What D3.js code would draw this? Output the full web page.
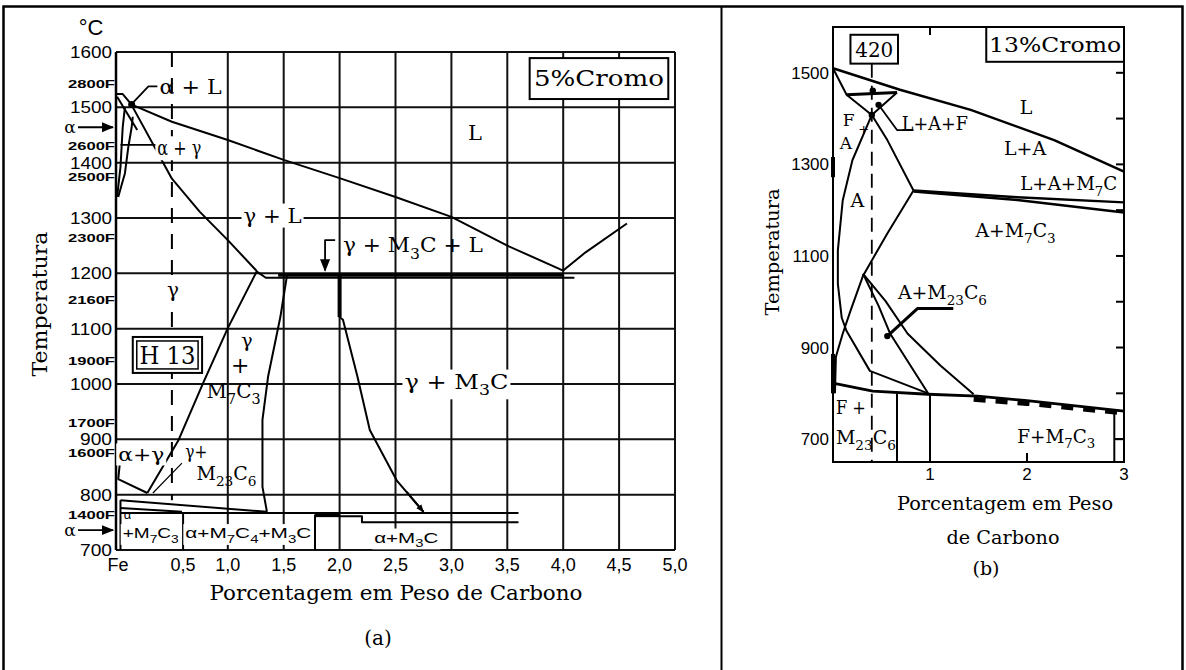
<!DOCTYPE html>
<html>
<head>
<meta charset="utf-8">
<script src="https://cdn.jsdelivr.net/npm/d3@7"></script>
<style>
  body { margin: 0; background: #fff; }
</style>
</head>
<body>
<svg width="1186" height="670"></svg>
<script>
// ---------- data: panel (a), 5% Cr ----------
const tempTicksA = [700, 800, 900, 1000, 1100, 1200, 1300, 1400, 1500, 1600];
const carbonGridA = [1.0, 1.5, 2.0, 2.5, 3.0, 3.5, 4.0, 4.5, 5.0];
const carbonTicksA = [0, 0.5, 1.0, 1.5, 2.0, 2.5, 3.0, 3.5, 4.0, 4.5, 5.0];
const carbonLabelsA = ["Fe", "0,5", "1,0", "1,5", "2,0", "2,5", "3,0", "3,5", "4,0", "4,5", "5,0"];
const fahrenheitTicks = [2800, 2600, 2500, 2300, 2100, 1900, 1700, 1600, 1400];
const fahrenheitLabels = ["2800F", "2600F", "2500F", "2300F", "2160F", "1900F", "1700F", "1600F", "1400F"];

// phase boundaries (wt% C, deg C)
const liquidusA = [[0.14,1505],[0.5,1474],[1.0,1441],[1.5,1405],[2.0,1372],[2.5,1338],[3.0,1302],[3.5,1250],[4.0,1205]];
const hyperLiquidusA = [[4.0,1205],[4.2,1238],[4.57,1290]];
const deltaTopA = [[0,1524],[0.06,1524],[0.14,1505]];
const deltaSolidusA = [[0.01,1519],[0.19,1459]];
const deltaOuterA = [[0.08,1501],[0.06,1464],[0.05,1428],[0.04,1392],[0.01,1338]];
const deltaInnerA = [[0.15,1483],[0.14,1464],[0.11,1428],[0.08,1381],[0.02,1338]];
const gammaSolidusA = [[0.14,1504],[0.5,1371],[0.75,1311],[1.0,1260],[1.26,1204]];
const eutecticA = [[1.45,1197],[4.0,1197]];
const eutecticLowerA = [[1.26,1203],[1.34,1192],[4.1,1192]];
const acmA = [[1.53,1197],[1.47,1121],[1.36,1013],[1.31,935],[1.31,814],[1.35,769]];
const gammaM7C3A = [[1.26,1204],[1.0,1101],[0.78,1002],[0.56,899],[0.28,803]];
const gammaM23C6A = [[0.59,857],[0.33,803]];
const alphaGammaA = [[0.04,868],[0.02,828],[0.28,803]];
const m3cBoundaryA = [[2.0,1197],[2.0,1121],[2.03,1116],[2.16,1013],[2.27,917],[2.51,826],[2.75,769]];
const eutectoidSlopeA = [[0.04,790],[1.35,769]];
const eutectoidStepA = [[0.04,776],[0.59,769]];
const eutectoidUpperA = [[0.04,767],[3.6,767]];
const eutectoidLowerA = [[1.99,761],[2.2,761],[2.2,750],[3.6,750]];
const boxEdgesA = [[[0.04,790],[0.04,700]], [[0.6,767],[0.6,700]], [[1.78,700],[1.78,763],[2.0,763]]];
const h13Carbon = 0.5;

// ---------- data: panel (b), 13% Cr ----------
const tempTicksB = [700, 900, 1100, 1300, 1500];
const rightTicksB = [700, 800, 900, 1000, 1100, 1200, 1300, 1400, 1500];
const carbonTicksB = [1, 2, 3];
const carbonLabelsB = ["1", "2", "3"];

const liquidusB = [[0,1510],[0.69,1463],[1.42,1419],[2.28,1353],[3.0,1284]];
const ferriteB = [[0,1510],[0.14,1452],[0.4,1408]];
const threePhaseB = [[0.14,1452],[0.66,1457]];
const threePhaseSideB = [[0.66,1457],[0.4,1408]];
const lamB = [[0.4,1408],[0.56,1353],[0.83,1243]];
const lamUpperB = [[0.83,1243],[1.9,1228],[3.0,1217]];
const lamLowerB = [[0.83,1241],[1.9,1222],[3.0,1195]];
const austM7C3B = [[0.83,1243],[0.56,1149],[0.31,1057],[0.18,980],[0.1,930],[0.03,880],[0.02,800]];
const austLeftB = [[0.4,1408],[0.2,1309],[0.1,1221],[0.05,1112],[0.05,1039],[0.09,965],[0.14,936],[0.38,849],[0.98,800]];
const m23c6B1 = [[0.31,1061],[0.47,991],[0.59,930],[0.98,800]];
const m23c6B2 = [[0.31,1061],[0.54,1002],[0.77,930],[1.11,860],[1.45,798]];
const eutectoidB = [[0,822],[0.41,805],[0.98,798],[1.49,794],[2.0,784],[3.0,761]];
const eutectoidDashB = [[1.45,787],[2.0,778],[3.0,757]];
const verticalsB = [[[0.66,800],[0.66,650]], [[1.0,798],[1.0,650]], [[2.9,764],[2.9,650]], [[2.9,700],[3.0,700]]];
const axisThickB = [[[0,1316],[0,1272]], [[0,886],[0,800]]];
const dotsB = [[0.41,1461],[0.4,1408],[0.47,1430],[0.56,925]];
const leaderLAF = [[0.47,1430],[0.66,1375],[0.83,1375]];
const leaderM23 = [[1.24,985],[0.87,985],[0.56,925]];
const alloy420Carbon = 0.4;

const svg = d3.select("svg");
const serif = "'DejaVu Serif', 'Liberation Serif', serif";
const sans = "'Liberation Sans', Arial, sans-serif";

// outer table
svg.append("rect").attr("x", 3.5).attr("y", 6.5).attr("width", 1179).attr("height", 670)
  .attr("fill", "none").attr("stroke", "#000").attr("stroke-width", 2.5);
svg.append("line").attr("x1", 721.5).attr("x2", 721.5).attr("y1", 6.5).attr("y2", 670)
  .attr("stroke", "#000").attr("stroke-width", 2);

const defs = svg.append("defs");
defs.append("marker").attr("id", "arr")
  .attr("viewBox", "0 0 10 10").attr("refX", 9).attr("refY", 5)
  .attr("markerWidth", 7).attr("markerHeight", 7).attr("orient", "auto")
  .append("path").attr("d", "M0,1 L10,5 L0,9 z").attr("fill", "#000");
defs.append("marker").attr("id", "arrSmall")
  .attr("viewBox", "0 0 10 10").attr("refX", 9).attr("refY", 5)
  .attr("markerWidth", 4).attr("markerHeight", 4).attr("orient", "auto")
  .append("path").attr("d", "M0,1 L10,5 L0,9 z").attr("fill", "#000");

function polyline(g, pts, sx, sy, w, dash) {
  const line = d3.line().x(d => sx(d[0])).y(d => sy(d[1]));
  return g.append("path").attr("d", line(pts)).attr("fill", "none")
    .attr("stroke", "#000").attr("stroke-width", w || 2)
    .attr("stroke-dasharray", dash || null).attr("stroke-linejoin", "round");
}

// text with _{sub} markup
function label(g, x, y, str, o) {
  o = o || {};
  const size = o.size || 20;
  const t = g.append("text").attr("x", x).attr("y", y)
    .attr("font-family", o.font || serif).attr("font-size", size)
    .attr("font-weight", o.weight || "normal")
    .attr("text-anchor", o.anchor || "start").attr("dy", "0.35em").attr("fill", "#000");
  let sub = false;
  str.split(/(_\{[^}]*\})/).forEach(p => {
    if (!p) return;
    if (p.startsWith("_{")) {
      t.append("tspan").attr("font-size", size * 0.72).attr("dy", size * 0.32).text(p.slice(2, -1));
      sub = true;
    } else {
      const ts = t.append("tspan").text(p);
      if (sub) { ts.attr("dy", -size * 0.32); sub = false; }
    }
  });
  if (o.width) t.attr("textLength", o.width).attr("lengthAdjust", "spacingAndGlyphs");
  if (o.bg) {
    const b = t.node().getBBox();
    g.insert("rect", () => t.node()).attr("x", b.x - 2).attr("y", b.y)
      .attr("width", b.width + 4).attr("height", b.height).attr("fill", "#fff");
  }
  return t;
}

// ================= panel (a) =================
const xA = d3.scaleLinear().domain([0, 5]).range([116, 675]);
const yA = d3.scaleLinear().domain([700, 1600]).range([550, 52]);
const gA = svg.append("g");

// grid
gA.selectAll(".hg").data(tempTicksA).enter().append("line")
  .attr("x1", xA(0)).attr("x2", xA(5)).attr("y1", d => yA(d)).attr("y2", d => yA(d))
  .attr("stroke", "#111").attr("stroke-width", 2);
gA.selectAll(".vg").data(carbonGridA).enter().append("line")
  .attr("x1", d => xA(d)).attr("x2", d => xA(d)).attr("y1", yA(1600)).attr("y2", yA(700))
  .attr("stroke", "#111").attr("stroke-width", 2);
gA.append("line").attr("x1", xA(0)).attr("x2", xA(0)).attr("y1", yA(1600)).attr("y2", yA(700))
  .attr("stroke", "#000").attr("stroke-width", 2.5);
// H13 composition
polyline(gA, [[h13Carbon, 1600], [h13Carbon, 790]], xA, yA, 2, "15,11");

// phase lines
[liquidusA, hyperLiquidusA, deltaTopA, deltaSolidusA, deltaOuterA, deltaInnerA, gammaSolidusA,
 eutecticLowerA, acmA, gammaM7C3A, alphaGammaA, m3cBoundaryA, eutectoidSlopeA, eutectoidStepA,
 eutectoidUpperA, eutectoidLowerA].forEach(p => polyline(gA, p, xA, yA, 2));
polyline(gA, eutecticA, xA, yA, 3.5);
polyline(gA, gammaM23C6A, xA, yA, 1.2);
polyline(gA, [[2.0, 1197], [2.0, 1121]], xA, yA, 4);
polyline(gA, [[1.78, 763], [2.0, 763]], xA, yA, 4);
boxEdgesA.forEach(p => polyline(gA, p, xA, yA, 2));
polyline(gA, [[2.6, 805], [2.75, 769]], xA, yA, 2).attr("marker-end", "url(#arrSmall)");
gA.append("circle").attr("cx", xA(0.14)).attr("cy", yA(1505)).attr("r", 3.5);

// leaders
polyline(gA, [[0.37, 1538], [0.29, 1538], [0.15, 1508]], xA, yA, 1.8);
polyline(gA, [[0.04, 1432], [0.37, 1432]], xA, yA, 1.8);
polyline(gA, [[1.96, 1260], [1.87, 1260], [1.87, 1205]], xA, yA, 1.8).attr("marker-end", "url(#arr)");

// axis labels
gA.selectAll(".yl").data(tempTicksA).enter().append("text")
  .attr("x", 112).attr("y", d => yA(d)).attr("dy", "0.36em").attr("text-anchor", "end")
  .attr("font-family", sans).attr("font-size", 17).attr("textLength", d => d >= 1000 ? 42 : 32)
  .attr("lengthAdjust", "spacingAndGlyphs").text(d => d);
gA.selectAll(".fl").data(fahrenheitTicks).enter().append("text")
  .attr("x", 115).attr("y", d => yA((d - 32) * 5 / 9) + 2).attr("text-anchor", "end")
  .attr("font-family", sans).attr("font-size", 11).attr("font-weight", "bold")
  .attr("textLength", 47).attr("lengthAdjust", "spacingAndGlyphs")
  .text((d, i) => fahrenheitLabels[i]);
gA.selectAll(".xl").data(carbonTicksA).enter().append("text")
  .attr("x", d => xA(d) + (d === 0.5 ? 11 : d === 0 ? 2 : 0)).attr("y", 565).attr("dy", "0.36em")
  .attr("text-anchor", "middle").attr("font-family", sans).attr("font-size", 18)
  .text((d, i) => carbonLabelsA[i]);
label(gA, 91, 27, "°C", { font: sans, size: 22, anchor: "middle" });
label(gA, 396, 593, "Porcentagem em Peso de Carbono", { size: 21, anchor: "middle", width: 373 });
label(gA, 378, 638, "(a)", { size: 20, anchor: "middle" });
label(gA, 0, 0, "Temperatura", { size: 21, anchor: "middle", width: 145 })
  .attr("transform", "translate(40,304) rotate(-90)");

// alpha arrows on the axis
[1464, 736].forEach(t => {
  label(gA, 70, yA(t), "α", { size: 17, anchor: "middle" });
  gA.append("line").attr("x1", 78).attr("x2", 113).attr("y1", yA(t)).attr("y2", yA(t))
    .attr("stroke", "#000").attr("stroke-width", 1.8).attr("marker-end", "url(#arr)");
});

// boxes
function box(g, x0, y0, x1, y1, double) {
  g.append("rect").attr("x", x0).attr("y", y0).attr("width", x1 - x0).attr("height", y1 - y0)
    .attr("fill", "#fff").attr("stroke", "#000").attr("stroke-width", 2);
  if (double) g.append("rect").attr("x", x0 + 4).attr("y", y0 + 4).attr("width", x1 - x0 - 8)
    .attr("height", y1 - y0 - 8).attr("fill", "none").attr("stroke", "#000").attr("stroke-width", 1.5);
}
box(gA, xA(3.7), yA(1589), xA(4.94), yA(1515));
label(gA, (xA(3.7) + xA(4.94)) / 2, (yA(1589) + yA(1515)) / 2, "5%Cromo", { size: 22, anchor: "middle", width: 130 });
box(gA, xA(0.15), yA(1085), xA(0.77), yA(1020), true);
label(gA, (xA(0.15) + xA(0.77)) / 2, (yA(1085) + yA(1020)) / 2 + 1, "H 13", { size: 24, anchor: "middle", width: 56 });

// region labels
label(gA, xA(0.39), yA(1537), "α + L", { size: 21, width: 62 });
label(gA, xA(0.37), yA(1426), "α + γ", { size: 20, width: 44, bg: true });
label(gA, xA(3.21), yA(1454), "L", { size: 21, anchor: "middle" });
label(gA, xA(1.4), yA(1305), "γ + L", { size: 21, anchor: "middle", width: 58, bg: true });
label(gA, xA(2.03), yA(1251), "γ + M_{3}C + L", { size: 21, width: 140 });
label(gA, xA(0.51), yA(1170), "γ", { size: 20, anchor: "middle", bg: true });
label(gA, xA(1.17), yA(1079), "γ", { size: 19, anchor: "middle" });
label(gA, xA(1.11), yA(1034), "+", { size: 22, anchor: "middle" });
label(gA, xA(0.81), yA(988), "M_{7}C_{3}", { size: 20, width: 54 });
label(gA, xA(2.58), yA(1005), "γ + M_{3}C", { size: 21, width: 104, bg: true });
label(gA, xA(0.02), yA(872), "α+γ", { size: 19, width: 46, bg: true });
label(gA, xA(0.62), yA(877), "γ+", { size: 18, width: 22 });
label(gA, xA(0.72), yA(838), "M_{23}C_{6}", { size: 19, width: 60 });
label(gA, xA(0.07), yA(765), "α", { font: sans, size: 13 });
label(gA, xA(0.06), yA(731), "+M_{7}C_{3}", { font: sans, size: 15, width: 56, bg: true });
label(gA, xA(0.62), yA(731), "α+M_{7}C_{4}+M_{3}C", { font: sans, size: 15, width: 126, bg: true });
label(gA, xA(2.31), yA(723), "α+M_{3}C", { font: sans, size: 15, width: 64, bg: true });

// ================= panel (b) =================
const xB = d3.scaleLinear().domain([0, 3]).range([833, 1124]);
const yB = d3.scaleLinear().domain([650, 1600]).range([462, 27]);
const gB = svg.append("g");

gB.append("rect").attr("x", xB(0)).attr("y", yB(1600)).attr("width", xB(3) - xB(0))
  .attr("height", yB(650) - yB(1600)).attr("fill", "none").attr("stroke", "#000").attr("stroke-width", 2);
gB.selectAll(".rt").data(rightTicksB).enter().append("line")
  .attr("x1", xB(3)).attr("x2", xB(3) - 8).attr("y1", d => yB(d)).attr("y2", d => yB(d))
  .attr("stroke", "#000").attr("stroke-width", 2);
gB.selectAll(".tt").data([1, 2]).enter().append("line")
  .attr("x1", d => xB(d)).attr("x2", d => xB(d)).attr("y1", yB(1600)).attr("y2", yB(1600) + 8)
  .attr("stroke", "#000").attr("stroke-width", 2);
gB.append("line").attr("x1", xB(2)).attr("x2", xB(2)).attr("y1", yB(650)).attr("y2", yB(650) - 9)
  .attr("stroke", "#000").attr("stroke-width", 2);

// 420 composition
polyline(gB, [[alloy420Carbon, 1520], [alloy420Carbon, 650]], xB, yB, 1.8, "14,8");

[ferriteB, threePhaseSideB, lamB, austM7C3B, austLeftB, m23c6B1, m23c6B2]
  .forEach(p => polyline(gB, p, xB, yB, 2));
polyline(gB, liquidusB, xB, yB, 2.5);
polyline(gB, threePhaseB, xB, yB, 3);
polyline(gB, lamUpperB, xB, yB, 2.5);
polyline(gB, lamLowerB, xB, yB, 2.5);
polyline(gB, eutectoidB, xB, yB, 2.8);
polyline(gB, eutectoidDashB, xB, yB, 5, "12,10");
verticalsB.forEach(p => polyline(gB, p, xB, yB, 2));
axisThickB.forEach(p => polyline(gB, p, xB, yB, 4));
polyline(gB, leaderLAF, xB, yB, 1.8);
polyline(gB, leaderM23, xB, yB, 3);
gB.selectAll(".dot").data(dotsB).enter().append("circle")
  .attr("cx", d => xB(d[0])).attr("cy", d => yB(d[1])).attr("r", 3.2).attr("fill", "#000");

// axis labels
gB.selectAll(".yl").data(tempTicksB).enter().append("text")
  .attr("x", 829).attr("y", d => yB(d)).attr("dy", "0.36em").attr("text-anchor", "end")
  .attr("font-family", sans).attr("font-size", 17).text(d => d);
gB.selectAll(".xl").data(carbonTicksB).enter().append("text")
  .attr("x", d => xB(d)).attr("y", 474).attr("dy", "0.36em").attr("text-anchor", "middle")
  .attr("font-family", sans).attr("font-size", 17).text((d, i) => carbonLabelsB[i]);
label(gB, 1005, 503, "Porcentagem em Peso", { size: 19, anchor: "middle", width: 216 });
label(gB, 1003, 537, "de Carbono", { size: 19, anchor: "middle", width: 113 });
label(gB, 986, 568, "(b)", { size: 19, anchor: "middle" });
label(gB, 0, 0, "Temperatura", { size: 19, anchor: "middle", width: 127 })
  .attr("transform", "translate(772,252) rotate(-90)");

// boxes
box(gB, xB(0.18), yB(1583), xB(0.67), yB(1520));
label(gB, (xB(0.18) + xB(0.67)) / 2, (yB(1583) + yB(1520)) / 2, "420", { size: 21, anchor: "middle", width: 38 });
box(gB, xB(1.58), yB(1600), xB(3), yB(1524));
label(gB, (xB(1.58) + xB(3)) / 2, (yB(1600) + yB(1524)) / 2, "13%Cromo", { size: 21, anchor: "middle", width: 132 });

// region labels
label(gB, xB(1.99), yB(1425), "L", { size: 19, anchor: "middle" });
label(gB, xB(1.98), yB(1336), "L+A", { size: 19, anchor: "middle", width: 42 });
label(gB, xB(0.71), yB(1390), "L+A+F", { size: 19, width: 66 });
label(gB, xB(1.93), yB(1258), "L+A+M_{7}C", { size: 18, width: 97 });
label(gB, xB(1.47), yB(1156), "A+M_{7}C_{3}", { size: 19, width: 80 });
label(gB, xB(0.25), yB(1221), "A", { size: 19, anchor: "middle" });
label(gB, xB(0.67), yB(1020), "A+M_{23}C_{6}", { size: 19, width: 89 });
label(gB, xB(0.1), yB(1396), "F", { size: 17 });
label(gB, xB(0.26), yB(1377), "+", { size: 13 });
label(gB, xB(0.07), yB(1347), "A", { size: 17 });
label(gB, xB(0.03), yB(768), "F +", { size: 18, width: 30 });
label(gB, xB(0.03), yB(702), "M_{23}C_{6}", { size: 18, width: 60 });
label(gB, xB(1.9), yB(706), "F+M_{7}C_{3}", { size: 18, width: 78 });
</script>
</body>
</html>
